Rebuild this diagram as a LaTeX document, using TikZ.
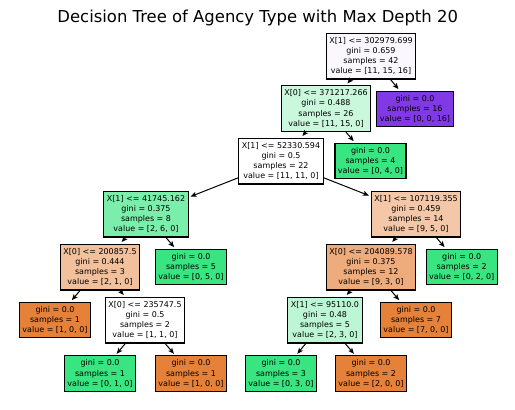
\documentclass[tikz,border=0pt]{standalone}
\usepackage{fontspec}
\setmainfont{DejaVu Sans}
\usetikzlibrary{arrows.meta}
\definecolor{cRoot}{RGB}{250,248,254}
\definecolor{cPurple}{RGB}{129,57,229}
\definecolor{cGreen}{RGB}{57,229,129}
\definecolor{cOrange}{RGB}{229,129,57}
\definecolor{cG1}{RGB}{202,248,221}
\definecolor{cG2}{RGB}{123,238,171}
\definecolor{cG3}{RGB}{189,246,213}
\definecolor{cO1}{RGB}{242,192,156}
\definecolor{cO2}{RGB}{243,199,167}
\definecolor{cO3}{RGB}{238,171,123}
\begin{document}
\begin{tikzpicture}[x=1bp,y=-1bp,
  box/.style={draw=black, line width=1.1bp, align=center,
    font=\fontsize{8}{10.3}\selectfont, inner xsep=3bp, inner ysep=4bp},
  edge/.style={-{Stealth[length=6bp,width=5bp,inset=1.5bp]}, line width=1bp, shorten >=2bp}]
\useasboundingbox (0,0) rectangle (515,409);
\node[font=\fontsize{16.5}{20}\selectfont, anchor=base] (title) at (257.7,22) {Decision Tree of Agency Type with Max Depth 20};
\node[box, fill=cRoot] (n0) at (371,56) {X[1] <= 302979.699\\gini = 0.659\\samples = 42\\value = [11, 15, 16]};
\node[box, fill=cG1] (n1) at (326,108.5) {X[0] <= 371217.266\\gini = 0.488\\samples = 26\\value = [11, 15, 0]};
\node[box, fill=cPurple] (n2) at (415,109) {gini = 0.0\\samples = 16\\value = [0, 0, 16]};
\node[box, fill=white] (n3) at (281,161) {X[1] <= 52330.594\\gini = 0.5\\samples = 22\\value = [11, 11, 0]};
\node[box, fill=cGreen] (n4) at (370.5,161) {gini = 0.0\\samples = 4\\value = [0, 4, 0]};
\node[box, fill=cG2] (n5) at (146,214) {X[1] <= 41745.162\\gini = 0.375\\samples = 8\\value = [2, 6, 0]};
\node[box, fill=cO2] (n6) at (416,214) {X[1] <= 107119.355\\gini = 0.459\\samples = 14\\value = [9, 5, 0]};
\node[box, fill=cO1] (n7) at (100,267) {X[0] <= 200857.5\\gini = 0.444\\samples = 3\\value = [2, 1, 0]};
\node[box, fill=cGreen] (n8) at (191,267) {gini = 0.0\\samples = 5\\value = [0, 5, 0]};
\node[box, fill=cO3] (n9) at (371,267) {X[0] <= 204089.578\\gini = 0.375\\samples = 12\\value = [9, 3, 0]};
\node[box, fill=cGreen] (n10) at (461.7,267) {gini = 0.0\\samples = 2\\value = [0, 2, 0]};
\node[box, fill=cOrange] (n11) at (55,320) {gini = 0.0\\samples = 1\\value = [1, 0, 0]};
\node[box, fill=white] (n12) at (145,320) {X[0] <= 235747.5\\gini = 0.5\\samples = 2\\value = [1, 1, 0]};
\node[box, fill=cG3] (n13) at (325,320) {X[1] <= 95110.0\\gini = 0.48\\samples = 5\\value = [2, 3, 0]};
\node[box, fill=cOrange] (n14) at (416,320) {gini = 0.0\\samples = 7\\value = [7, 0, 0]};
\node[box, fill=cGreen] (n15) at (100,373.7) {gini = 0.0\\samples = 1\\value = [0, 1, 0]};
\node[box, fill=cOrange] (n16) at (191,373.7) {gini = 0.0\\samples = 1\\value = [1, 0, 0]};
\node[box, fill=cGreen] (n17) at (281,373.7) {gini = 0.0\\samples = 3\\value = [0, 3, 0]};
\node[box, fill=cOrange] (n18) at (371,373.7) {gini = 0.0\\samples = 2\\value = [2, 0, 0]};
\foreach \p/\c in {n0/n1,n0/n2,n1/n3,n1/n4,n3/n5,n3/n6,n5/n7,n5/n8,n7/n11,n7/n12,n12/n15,n12/n16,n6/n9,n6/n10,n9/n13,n9/n14,n13/n17,n13/n18}
  \draw[edge] (\p) -- (\c);
\end{tikzpicture}
\end{document}
